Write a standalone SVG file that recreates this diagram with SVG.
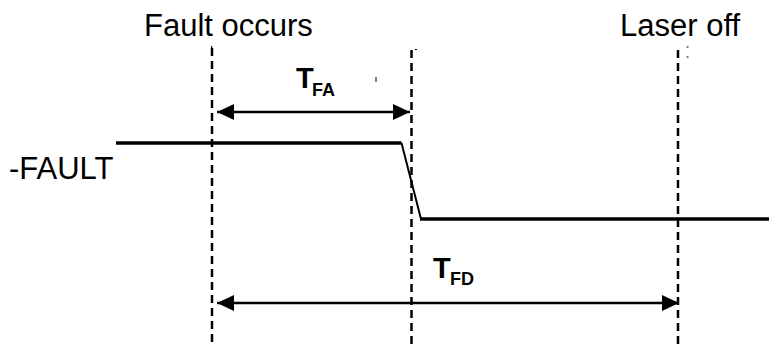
<svg xmlns="http://www.w3.org/2000/svg" width="769" height="347" viewBox="0 0 769 347">
  <defs>
    <marker id="ah" viewBox="0 0 17 16" refX="17" refY="8" markerWidth="17" markerHeight="16" markerUnits="userSpaceOnUse" orient="auto-start-reverse">
      <path d="M0,0 L17,8 L0,16 Z" fill="#000"/>
    </marker>
    <style>
      .lbl { font-family: "Liberation Sans", Arial, sans-serif; font-size: 31px; fill: #000; }
      .t { font-family: "Liberation Sans", Arial, sans-serif; font-weight: bold; font-size: 29px; fill: #000; }
      .sub { font-size: 18px; }
      .dash { stroke: #000; stroke-width: 2.5; stroke-dasharray: 8 5; fill: none; }
      .sig { stroke: #000; stroke-width: 3.5; fill: none; }
      .arr { stroke: #000; stroke-width: 2.5; fill: none; marker-start: url(#ah); marker-end: url(#ah); }
    </style>
  </defs>
  <rect width="769" height="347" fill="#fff"/>

  <g id="labels">
    <text class="lbl" x="9" y="179">-FAULT</text>
    <text class="lbl" x="144" y="36">Fault occurs</text>
    <text class="lbl" x="620" y="36">Laser off</text>
  </g>

  <g id="guides">
    <line class="dash" x1="212" y1="48" x2="212" y2="347"/>
    <line class="dash" x1="411.5" y1="50" x2="411.5" y2="347"/>
    <line class="dash" x1="678" y1="50" x2="678" y2="347"/>
    <rect x="211" y="46" width="1.2" height="2" fill="#000"/>
    <rect x="415" y="49" width="2" height="1" fill="#000"/>
    <rect x="686.5" y="46.5" width="2" height="1" fill="#000"/>
    <rect x="686.5" y="56.5" width="2" height="1" fill="#000"/>
    <rect x="375.5" y="77" width="1" height="5" fill="#000"/>
  </g>

  <g id="signal">
    <path class="sig" d="M116,143 L401.5,143"/>
    <path d="M401.5,143 L421,219" stroke="#000" stroke-width="2" fill="none"/>
    <path class="sig" d="M420,219 L769,219"/>
  </g>

  <g id="connectors">
    <line class="arr" x1="217" y1="112" x2="410" y2="112"/>
    <line class="arr" x1="217" y1="303" x2="679" y2="303"/>
  </g>

  <g id="tfa">
    <text class="t" x="296" y="88">T<tspan class="sub" x="312" y="96">FA</tspan></text>
  </g>
  <g id="tfd">
    <text class="t" x="433" y="278">T<tspan class="sub" x="450" y="285">FD</tspan></text>
  </g>
</svg>
